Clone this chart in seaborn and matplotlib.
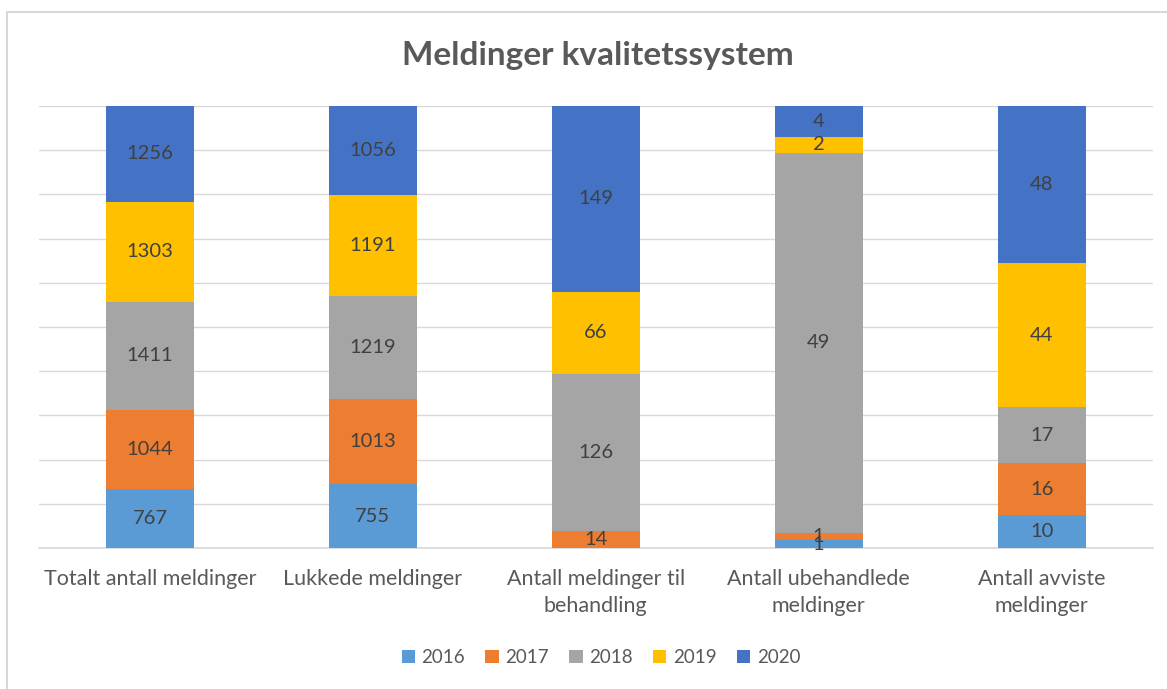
import matplotlib
matplotlib.use("Agg")
import matplotlib.pyplot as plt
import seaborn as sns
import pandas as pd
import numpy as np
from matplotlib.patches import Rectangle, Patch

categories = ["Totalt antall meldinger", "Lukkede meldinger",
              "Antall meldinger til\nbehandling", "Antall ubehandlede\nmeldinger",
              "Antall avviste\nmeldinger"]
years = ["2016", "2017", "2018", "2019", "2020"]
v2016 = [767, 755, 0, 1, 10]
v2017 = [1044, 1013, 14, 1, 16]
v2018 = [1411, 1219, 126, 49, 17]
v2019 = [1303, 1191, 66, 2, 44]
v2020 = [1256, 1056, 149, 4, 48]
colors = ["#5B9BD5", "#ED7D31", "#A5A5A5", "#FFC000", "#4472C4"]

sns.set_theme(style="white")
plt.rcParams['font.family'] = ['Lato', 'DejaVu Sans']

df = pd.DataFrame({"cat": categories, "2016": v2016, "2017": v2017, "2018": v2018,
                   "2019": v2019, "2020": v2020})
vals = df[years].to_numpy(dtype=float)
pct = vals / vals.sum(axis=1, keepdims=True) * 100
cum = np.cumsum(pct, axis=1)

fig = plt.figure(figsize=(11.67, 6.89), dpi=100)
ax = fig.add_axes([0.033, 0.2046, 0.955, 0.6416])

# draw from top cumulative down so each overlaps the previous
for i in reversed(range(len(years))):
    d = pd.DataFrame({"cat": categories, "v": cum[:, i]})
    sns.barplot(data=d, x="cat", y="v", color=colors[i], width=0.395,
                saturation=1, ax=ax, zorder=3, errorbar=None, linewidth=0)

for j in range(len(categories)):
    for i in range(len(years)):
        if vals[j, i] == 0:
            continue
        yc = cum[j, i] - pct[j, i] / 2
        ax.text(j, yc, f"{int(vals[j, i])}", ha="center", va="center",
                fontsize=14.5, color="#404040", zorder=5)

ax.set_ylim(0, 100)
ax.set_xlim(-0.5, 4.5)
ax.set_yticks(np.arange(0, 101, 10))
ax.set_yticklabels([])
ax.tick_params(axis="y", length=0)
ax.tick_params(axis="x", length=0, pad=15, labelsize=15.5, labelcolor="#595959")
for lab in ax.get_xticklabels():
    lab.set_linespacing(1.45)
ax.yaxis.grid(True, color="#d9d9d9", linewidth=1, zorder=0)
ax.set_axisbelow(True)
for s in ["top", "right", "left"]:
    ax.spines[s].set_visible(False)
ax.spines["bottom"].set_color("#d9d9d9")
ax.set_xlabel("")
ax.set_ylabel("")

fig.text(0.512, 0.92, "Meldinger kvalitetssystem", ha="center", va="center",
         fontsize=24, fontweight="bold", color="#595959")

handles = [Patch(facecolor=c, edgecolor="none") for c in colors]
fig.legend(handles, years, loc="center", bbox_to_anchor=(0.515, 0.045), ncol=5,
           frameon=False, fontsize=13.5, handlelength=0.7, handleheight=0.7,
           columnspacing=1.1, handletextpad=0.35, labelcolor="#595959")

fig.patches.append(Rectangle((0.006, -0.05), 1.1, 1.033, transform=fig.transFigure,
                             fill=False, edgecolor="#d0d0d0", linewidth=1.2))

fig.savefig("out.png", dpi=100)
